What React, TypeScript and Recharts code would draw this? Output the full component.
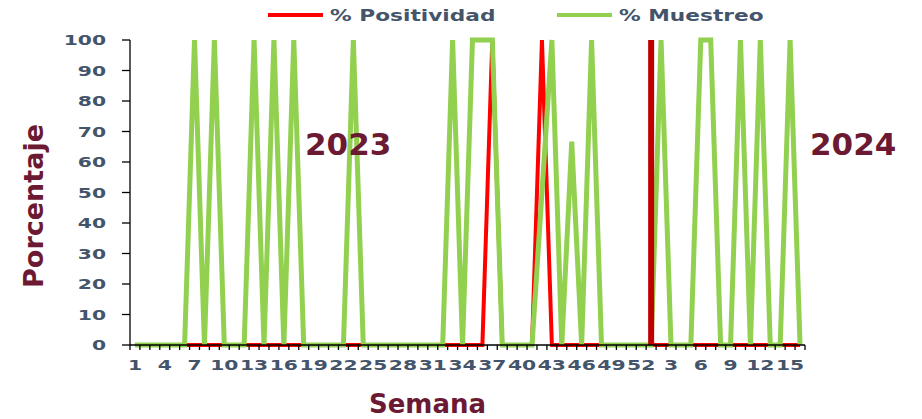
import React from 'react'
import {
    ComposedChart,
    Line,
    XAxis,
    YAxis,
    ReferenceLine,
    Legend,
    Label,
} from 'recharts'

// semanas epidemiologicas
const semanas2023 = [
    1, 2, 3, 4, 5, 6, 7, 8, 9, 10, 11, 12, 13, 14, 15, 16, 17, 18, 19, 20, 21,
    22, 23, 24, 25, 26, 27, 28, 29, 30, 31, 32, 33, 34, 35, 36, 37, 38, 39, 40,
    41, 42, 43, 44, 45, 46, 47, 48, 49, 50, 51, 52,
]
const semanas2024 = [1, 2, 3, 4, 5, 6, 7, 8, 9, 10, 11, 12, 13, 14, 15, 16]

// % Muestreo
const muestreo2023 = [
    0, 0, 0, 0, 0, 0, 100, 0, 100, 0, 0, 0, 100, 0, 100, 0, 100, 0, 0, 0, 0, 0,
    100, 0, 0, 0, 0, 0, 0, 0, 0, 0, 100, 0, 100, 100, 100, 0, 0, 0, 0, 50, 100,
    0, 66.7, 0, 100, 0, 0, 0, 0, 0,
]
const muestreo2024 = [0, 100, 0, 0, 0, 100, 100, 0, 0, 100, 0, 100, 0, 0, 100, 0]

// % Positividad
const positividad2023 = [
    0, 0, 0, 0, 0, 0, 0, 0, 0, 0, 0, 0, 0, 0, 0, 0, 0, 0, 0, 0, 0, 0, 0, 0, 0,
    0, 0, 0, 0, 0, 0, 0, 0, 0, 0, 0, 100, 0, 0, 0, 0, 100, 0, 0, 0, 0, 0, 0, 0,
    0, 0, 0,
]
const positividad2024 = [0, 0, 0, 0, 0, 0, 0, 0, 0, 0, 0, 0, 0, 0, 0, 0]

const yTicks = [0, 10, 20, 30, 40, 50, 60, 70, 80, 90, 100]
const corteAnio = '2024-1'
const ordenLeyenda = ['% Positividad', '% Muestreo']

const data = [
    ...semanas2023.map((s, i) => ({
        key: `2023-${s}`,
        positividad: positividad2023[i],
        muestreo: muestreo2023[i],
    })),
    ...semanas2024.map((s, i) => ({
        key: `2024-${s}`,
        positividad: positividad2024[i],
        muestreo: muestreo2024[i],
    })),
]

const W = 922
const H = 419
const PLOT_L = 130
const PLOT_R = 805
const BAND = (PLOT_R - PLOT_L) / data.length
const FONT = '"DejaVu Sans", sans-serif'
const TICK_COLOR = '#44546A'
const TITLE_COLOR = '#6C1A33'

function XTick(props: any) {
    const { x, y, payload, index } = props
    const semana = String(payload.value).split('-')[1]
    const left = x - BAND / 2
    return (
        <g>
            <line x1={left} x2={left} y1={y} y2={y + 5} stroke="#000" strokeWidth={1.3} />
            {index === data.length - 1 && (
                <line x1={x + BAND / 2} x2={x + BAND / 2} y1={y} y2={y + 5} stroke="#000" strokeWidth={1.3} />
            )}
            {index % 3 === 0 && (
                <text
                    transform={`translate(${x},${y + 25}) scale(1.4,1)`}
                    textAnchor="middle"
                    fill={TICK_COLOR}
                    fontSize={14.5}
                    fontWeight="bold"
                    fontFamily={FONT}
                >
                    {semana}
                </text>
            )}
        </g>
    )
}

function YTick(props: any) {
    const { x, y, payload } = props
    return (
        <text
            transform={`translate(${x},${y}) scale(1.4,1)`}
            textAnchor="end"
            dy="0.36em"
            fill={TICK_COLOR}
            fontSize={14.5}
            fontWeight="bold"
            fontFamily={FONT}
        >
            {payload.value}
        </text>
    )
}

const legendPos = [268, 557]

function renderLegend(props: any) {
    const items = ordenLeyenda
        .map((n) => (props.payload || []).find((p: any) => p.value === n))
        .filter(Boolean)
    return (
        <svg width={W} height={30}>
            {items.map((it: any, i: number) => (
                <g key={it.value}>
                    <line
                        x1={legendPos[i]}
                        x2={legendPos[i] + 55}
                        y1={15}
                        y2={15}
                        stroke={it.color}
                        strokeWidth={4}
                    />
                    <text
                        transform={`translate(${legendPos[i] + 62},20.5) scale(1.4,1)`}
                        fill={TICK_COLOR}
                        fontSize={15.5}
                        fontWeight="bold"
                        fontFamily={FONT}
                    >
                        {it.value}
                    </text>
                </g>
            ))}
        </svg>
    )
}

export default function App() {
    return (
        <div style={{ position: 'absolute', left: 0, top: 0, width: W, height: H, background: '#fff' }}>
            <ComposedChart
                width={W}
                height={H}
                data={data}
                margin={{ top: 40, right: W - PLOT_R, bottom: 44, left: 0 }}
            >
                <XAxis
                    dataKey="key"
                    scale="band"
                    interval={0}
                    height={30}
                    tickLine={false}
                    tickSize={0}
                    tickMargin={0}
                    tick={<XTick />}
                    axisLine={{ stroke: '#000', strokeWidth: 1.3 }}
                >
                    <Label
                        content={() => (
                            <text
                                x={427.5}
                                y={413}
                                textAnchor="middle"
                                fill={TITLE_COLOR}
                                fontSize={26}
                                fontWeight="bold"
                                fontFamily={FONT}
                            >
                                Semana
                            </text>
                        )}
                    />
                </XAxis>
                <YAxis
                    width={PLOT_L}
                    domain={[0, 100]}
                    ticks={yTicks}
                    tickSize={8}
                    tickMargin={16}
                    tick={<YTick />}
                    tickLine={{ stroke: '#000', strokeWidth: 1.3 }}
                    axisLine={{ stroke: '#000', strokeWidth: 1.3 }}
                >
                    <Label
                        content={() => (
                            <text
                                x={43}
                                y={206}
                                transform="rotate(-90 43 206)"
                                textAnchor="middle"
                                fill={TITLE_COLOR}
                                fontSize={27}
                                fontWeight="bold"
                                fontFamily={FONT}
                            >
                                Porcentaje
                            </text>
                        )}
                    />
                </YAxis>
                <Legend
                    layout="horizontal"
                    verticalAlign="middle"
                    align="center"
                    wrapperStyle={{ top: 0, left: 0, width: W, height: 30 }}
                    content={renderLegend}
                />
                <Line
                    type="linear"
                    dataKey="positividad"
                    name="% Positividad"
                    stroke="#FF0000"
                    strokeWidth={4}
                    dot={false}
                    isAnimationActive={false}
                />
                <Line
                    type="linear"
                    dataKey="muestreo"
                    name="% Muestreo"
                    stroke="#92D050"
                    strokeWidth={5}
                    dot={false}
                    isAnimationActive={false}
                />
                <ReferenceLine x={corteAnio} stroke="#C00000" strokeWidth={6} />
            </ComposedChart>
            <svg
                width={W}
                height={H}
                style={{ position: 'absolute', left: 0, top: 0, pointerEvents: 'none' }}
            >
                <text x={305} y={155} fill={TITLE_COLOR} fontSize={31} fontWeight="bold" fontFamily={FONT}>
                    2023
                </text>
                <text x={810} y={155} fill={TITLE_COLOR} fontSize={31} fontWeight="bold" fontFamily={FONT}>
                    2024
                </text>
            </svg>
        </div>
    )
}
